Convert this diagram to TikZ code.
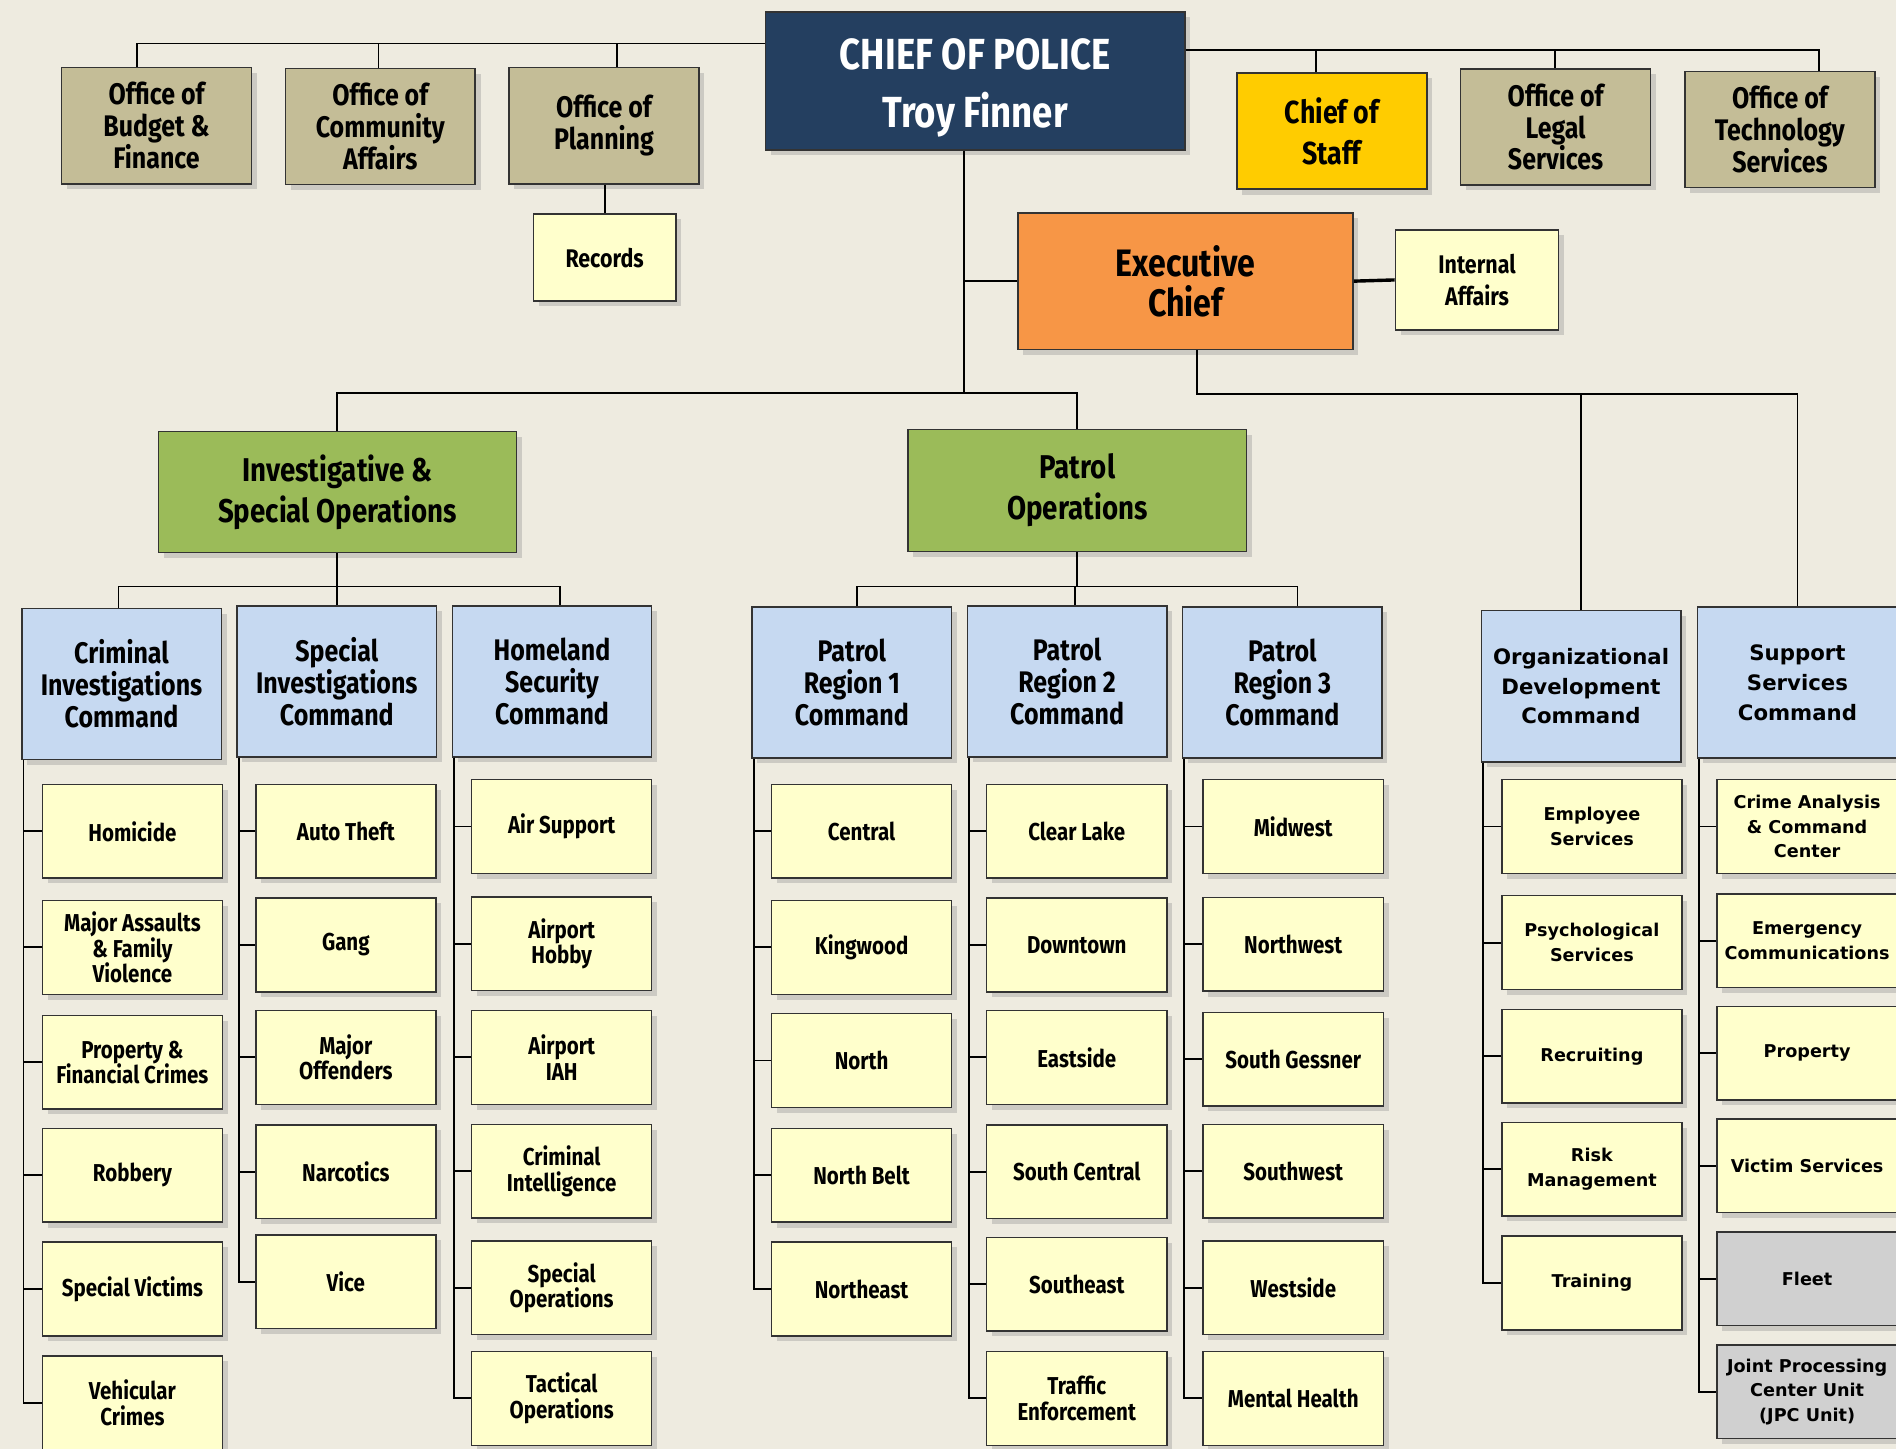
\documentclass[tikz,border=0pt]{standalone}
\usepackage{fontspec}
\usetikzlibrary{shadows}

\newfontfamily\condfont{Fira Sans}[FakeStretch=0.84]
\newfontfamily\widefont{DejaVu Sans}

\definecolor{bgcol}{HTML}{EEEBE0}
\definecolor{chiefblue}{HTML}{243F60}
\definecolor{officetan}{HTML}{C4BD97}
\definecolor{staffyellow}{HTML}{FFCC00}
\definecolor{execorange}{HTML}{F79646}
\definecolor{opsgreen}{HTML}{9BBB59}
\definecolor{cmdblue}{HTML}{C6D9F1}
\definecolor{unitfill}{HTML}{FFFFCC}
\definecolor{fleetgray}{HTML}{D0D0D0}

\begin{document}
\begin{tikzpicture}[x=0.02cm, y=-0.02cm,
  box/.style={draw=black!80, line width=0.7pt, inner sep=1pt, align=center,
    drop shadow={shadow xshift=2.5pt, shadow yshift=-2.5pt, opacity=0.3}},
  office/.style={box, fill=officetan, minimum width=3.14cm, minimum height=1.92cm,
    font=\condfont\bfseries\fontsize{14}{15}\selectfont},
  command/.style={box, fill=cmdblue, minimum width=3.3cm, minimum height=2.5cm,
    font=\condfont\bfseries\fontsize{14}{15}\selectfont},
  commandR/.style={command, font=\widefont\bfseries\fontsize{10}{14}\selectfont},
  unit/.style={box, fill=unitfill, minimum width=2.98cm, minimum height=1.55cm,
    font=\condfont\bfseries\fontsize{11.5}{12}\selectfont},
  unitR/.style={unit, font=\widefont\bfseries\fontsize{8.3}{11.5}\selectfont},
  link/.style={draw=black, line width=0.9pt}]

% Background
\useasboundingbox (0,0) rectangle (1568,1198);
\clip (0,0) rectangle (1568,1198);
\fill[bgcol] (0,0) rectangle (1568,1198);

% Chief and the offices on top
\node[box, fill=chiefblue, text=white, minimum width=6.94cm, minimum height=2.28cm,
  font=\condfont\bfseries\fontsize{20.5}{27}\selectfont] (chief) at (806.5,67) {\rule{0pt}{21pt}CHIEF OF POLICE\\Troy Finner};
\node[office] (budget) at (129.5,104) {Office of\\Budget \&\\Finance};
\node[office] (community) at (314.5,104.5) {Office of\\Community\\Affairs};
\node[office] (planning) at (499.5,104) {Office of\\Planning};
\node[office, fill=staffyellow, font=\condfont\bfseries\fontsize{15}{19}\selectfont] (staff) at (1101.5,108.5) {Chief of\\Staff};
\node[office] (legal) at (1286.5,105) {Office of\\Legal\\Services};
\node[office] (tech) at (1472,107) {Office of\\Technology\\Services};
\node[box, fill=unitfill, minimum width=2.36cm, minimum height=1.44cm,
  font=\condfont\bfseries\fontsize{12}{12}\selectfont] (records) at (500,213) {Records};

\coordinate (lbar) at (0,36);
\coordinate (rbar) at (0,41);
\draw[link] (chief.west |- lbar) -| (budget.north -| 113,0);
\draw[link] (community.north -| 313,0) -- (313,36);
\draw[link] (planning.north -| 510,0) -- (510,36);
\draw[link] (chief.east |- rbar) -| (tech.north -| 1504,0);
\draw[link] (staff.north -| 1088,0) -- (1088,41);
\draw[link] (legal.north -| 1286,0) -- (1286,41);
\draw[link] (records.north |- planning.south) -- (records.north);

% Executive chief
\node[box, fill=execorange, minimum width=5.54cm, minimum height=2.26cm,
  font=\condfont\bfseries\fontsize{18}{19}\selectfont] (exec) at (980.5,232.5) {Executive\\Chief};
\node[box, fill=unitfill, minimum width=2.7cm, minimum height=1.66cm,
  font=\condfont\bfseries\fontsize{12}{15}\selectfont] (intaff) at (1221.5,231.5) {Internal\\Affairs};

\coordinate (trunk) at (797,325);
\draw[link] (chief.south -| trunk) -- (trunk);
\draw[link] (exec.west) -- (exec.west -| trunk);
\draw[link, line width=1.6pt] (exec.east) -- (intaff.west);

% Operations
\node[box, fill=opsgreen, minimum width=5.92cm, minimum height=2cm,
  font=\condfont\bfseries\fontsize{15.5}{19}\selectfont] (invest) at (279,407) {Investigative \&\\Special Operations};
\node[box, fill=opsgreen, minimum width=5.6cm, minimum height=2.02cm,
  font=\condfont\bfseries\fontsize{15.5}{19}\selectfont] (patrol) at (891,405.5) {Patrol\\Operations};
\draw[link] (invest.north) |- (trunk) -| (patrol.north);

% Commands
\node[command] (crim) at (100.5,565.5) {Criminal\\Investigations\\Command};
\node[command] (spec) at (278.5,563.5) {Special\\Investigations\\Command};
\node[command] (home) at (456.5,563.5) {Homeland\\Security\\Command};
\node[command] (reg1) at (704.5,564.5) {Patrol\\Region 1\\Command};
\node[command] (reg2) at (882.5,563.5) {Patrol\\Region 2\\Command};
\node[command] (reg3) at (1060.5,564.5) {Patrol\\Region 3\\Command};
\node[commandR] (orgdev) at (1307.5,567.5) {Organizational\\Development\\Command};
\node[commandR] (support) at (1486.5,564.5) {Support\\Services\\Command};

\coordinate (ibar) at (0,485);
\draw[link] (invest.south) -- (invest.south |- ibar);
\draw[link] (crim.north -| 98,0) -- (98,485) -| (home.north -| 463,0);
\draw[link] (spec.north) -- (spec.north |- ibar);
\draw[link] (patrol.south) -- (patrol.south |- ibar);
\draw[link] (reg1.north -| 709,0) -- (709,485) -| (reg3.north -| 1073,0);
\draw[link] (reg2.north -| 889,0) -- (889,485);

\coordinate (ebar) at (990,326);
\draw[link] (exec.south -| ebar) -- (ebar) -| (support.north);
\draw[link] (orgdev.north) -- (orgdev.north |- ebar);

% Units under each command
\foreach \nm/\txt/\yy in {hom/Homicide/687.5, assault/{Major Assaults\\\& Family\\Violence}/783.5,
    propcr/{Property \&\\Financial Crimes}/878.5, robbery/Robbery/972,
    svict/Special Victims/1066, vehic/{Vehicular\\Crimes}/1160}{
  \node[unit] (\nm) at (109.5,\yy) {\txt};
  \draw[link] ([xshift=0.04cm]crim.south west) |- (\nm.west);
}
\foreach \nm/\txt/\yy in {auto/Auto Theft/687.5, gang/Gang/781.5, majoff/{Major\\Offenders}/874.5,
    narc/Narcotics/969, vice/Vice/1060}{
  \node[unit] (\nm) at (286,\yy) {\txt};
  \draw[link] ([xshift=0.04cm]spec.south west) |- (\nm.west);
}
\foreach \nm/\txt/\yy in {air/Air Support/683.5, hobby/{Airport\\Hobby}/780.5, iah/{Airport\\IAH}/874.5,
    crimint/{Criminal\\Intelligence}/968.5, specops/{Special\\Operations}/1065,
    tactops/{Tactical\\Operations}/1156.5}{
  \node[unit] (\nm) at (464.5,\yy) {\txt};
  \draw[link] ([xshift=0.04cm]home.south west) |- (\nm.west);
}
\foreach \nm/\txt/\yy in {central/Central/687.5, kingwood/Kingwood/783.5, north/North/877,
    nbelt/North Belt/972, neast/Northeast/1066}{
  \node[unit] (\nm) at (712.5,\yy) {\txt};
  \draw[link] ([xshift=0.04cm]reg1.south west) |- (\nm.west);
}
\foreach \nm/\txt/\yy in {clearlake/Clear Lake/687.5, downtown/Downtown/781.5, eastside/Eastside/874.5,
    scentral/South Central/969, seast/Southeast/1062, traffic/{Traffic\\Enforcement}/1156.5}{
  \node[unit] (\nm) at (890.5,\yy) {\txt};
  \draw[link] ([xshift=0.04cm]reg2.south west) |- (\nm.west);
}
\foreach \nm/\txt/\yy in {midwest/Midwest/683.5, nwest/Northwest/781, sgessner/South Gessner/876,
    swest/Southwest/968.5, westside/Westside/1065, mental/Mental Health/1156.5}{
  \node[unit] (\nm) at (1069.5,\yy) {\txt};
  \draw[link] ([xshift=0.04cm]reg3.south west) |- (\nm.west);
}
\foreach \nm/\txt/\yy in {employee/{Employee\\Services}/683.5, psych/{Psychological\\Services}/779.5,
    recruit/Recruiting/873.5, risk/{Risk\\Management}/967, training/Training/1061}{
  \node[unitR] (\nm) at (1316.5,\yy) {\txt};
  \draw[link] ([xshift=0.04cm]orgdev.south west) |- (\nm.west);
}
\foreach \nm/\txt/\yy in {crimean/{Crime Analysis\\\& Command\\Center}/683.5,
    emerg/{Emergency\\Communications}/778, property/Property/871, victim/Victim Services/964}{
  \node[unitR] (\nm) at (1494.5,\yy) {\txt};
  \draw[link] ([xshift=0.04cm]support.south west) |- (\nm.west);
}
% the two gray ones
\node[unitR, fill=fleetgray] (fleet) at (1494.5,1057.5) {Fleet};
\node[unitR, fill=fleetgray] (jpc) at (1494.5,1151) {Joint Processing\\Center Unit\\(JPC Unit)};
\draw[link] ([xshift=0.04cm]support.south west) |- (fleet.west);
\draw[link] ([xshift=0.04cm]support.south west) |- (jpc.west);

\end{tikzpicture}
\end{document}
